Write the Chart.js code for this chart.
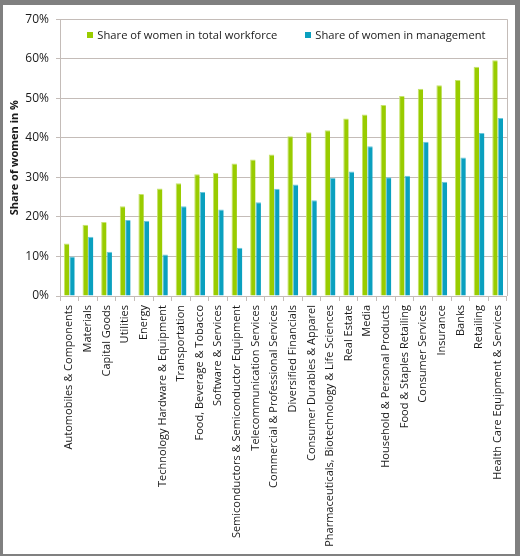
<!DOCTYPE html>
<html>
<head>
<meta charset="utf-8">
<script src="https://cdn.jsdelivr.net/npm/chart.js@4.4.1/dist/chart.umd.min.js"></script>
<style>
html,body{margin:0;padding:0;background:#808080;width:520px;height:556px;overflow:hidden;}
#box{position:absolute;left:3px;top:5px;width:512px;height:549px;background:#fff;}
canvas{display:block;}
</style>
</head>
<body>
<div id="box"><canvas id="c" width="512" height="549"></canvas></div>
<script>
const categories = [
  "Automobiles & Components","Materials","Capital Goods","Utilities","Energy",
  "Technology Hardware & Equipment","Transportation","Food, Beverage & Tobacco",
  "Software & Services","Semiconductors & Semiconductor Equipment",
  "Telecommunication Services","Commercial & Professional Services",
  "Diversified Financials","Consumer Durables & Apparel",
  "Pharmaceuticals, Biotechnology & Life Sciences","Real Estate","Media",
  "Household & Personal Products","Food & Staples Retailing","Consumer Services",
  "Insurance","Banks","Retailing","Health Care Equipment & Services"
];
const workforceShare = [13.3,18.0,18.7,22.7,25.8,27.2,28.5,30.8,31.2,33.5,34.5,35.8,40.4,41.4,41.9,44.9,45.9,48.3,50.6,52.4,53.3,54.6,58.0,59.6];
const managementShare = [10.0,15.0,11.2,19.2,19.0,10.5,22.7,26.3,21.9,12.2,23.7,27.1,28.2,24.2,29.9,31.5,37.9,30.0,30.4,39.0,28.9,35.0,41.2,45.0];
const seriesNames = ["Share of women in total workforce","Share of women in management"];
const yTicks = [0,10,20,30,40,50,60,70];
const yTitle = "Share of women in %";

const gridColor = '#c4bcb8';
const textColor = '#1a1a1a';
const FONT = "'Open Sans', sans-serif";

const framePlugin = {
  id: 'frame',
  beforeDatasetsDraw(chart) {
    const a = chart.chartArea, ctx = chart.ctx;
    ctx.save();
    ctx.strokeStyle = gridColor;
    ctx.lineWidth = 1;
    ctx.beginPath();
    ctx.moveTo(Math.round(a.right) + 0.5, a.top);
    ctx.lineTo(Math.round(a.right) + 0.5, a.bottom);
    ctx.stroke();
    ctx.restore();
  }
};

const innerLegend = {
  id: 'innerLegend',
  afterDatasetsDraw(chart) {
    const a = chart.chartArea, ctx = chart.ctx;
    const box = 6, gapBox = 4, gapItem = 28;
    ctx.save();
    ctx.font = "11.2px " + FONT;
    ctx.textBaseline = 'middle';
    const items = chart.data.datasets.map(ds => ({ text: ds.label, color: ds.backgroundColor, w: ctx.measureText(ds.label).width }));
    let total = 0;
    items.forEach((it, i) => { total += box + gapBox + it.w + (i ? gapItem : 0); });
    let x = (a.left + a.right) / 2 + 3 - total / 2;
    const y = a.top + 17;
    items.forEach(it => {
      ctx.fillStyle = it.color;
      ctx.fillRect(Math.round(x), Math.round(y - box / 2) - 1, box, box);
      x += box + gapBox;
      ctx.fillStyle = textColor;
      ctx.fillText(it.text, x, y);
      x += it.w + gapItem;
    });
    ctx.restore();
  }
};

new Chart(document.getElementById('c'), {
  type: 'bar',
  data: {
    labels: categories,
    datasets: [
      { label: seriesNames[0], data: workforceShare, backgroundColor: '#99cc00',
        borderColor: '#c6e36b', borderWidth: {left:1, top:1, right:0, bottom:0}, borderSkipped: false },
      { label: seriesNames[1], data: managementShare, backgroundColor: '#0aa0bf',
        borderColor: '#6cc6da', borderWidth: {left:1, top:1, right:0, bottom:0}, borderSkipped: false }
    ]
  },
  options: {
    responsive: false,
    animation: false,
    devicePixelRatio: 1,
    layout: { padding: { left: 0, right: 7, top: 14, bottom: 0 } },
    datasets: { bar: { categoryPercentage: 0.58, barPercentage: 1.0 } },
    plugins: {
      legend: { display: false },
      tooltip: { enabled: false }
    },
    scales: {
      x: {
        grid: { display: true, drawOnChartArea: false, drawTicks: true, tickLength: 5, color: gridColor, offset: true },
        border: { color: gridColor },
        ticks: { autoSkip: false, minRotation: 90, maxRotation: 90, padding: 4,
                 font: { family: FONT, size: 11 }, color: textColor },
        afterFit(scale) { scale.height = 258; }
      },
      y: {
        min: 0, max: 70,
        afterBuildTicks(scale) { scale.ticks = yTicks.map(v => ({ value: v })); },
        grid: { color: gridColor, tickLength: 4 },
        border: { color: gridColor },
        ticks: { padding: 7, font: { family: FONT, size: 12 }, color: textColor,
                 callback: v => v + '%' },
        title: { display: true, text: yTitle, font: { family: FONT, size: 11, weight: 'bold' }, color: textColor, padding: { top: 5, bottom: 0 } },
        afterFit(scale) { scale.width = 57; }
      }
    }
  },
  plugins: [framePlugin, innerLegend]
});
</script>
</body>
</html>
